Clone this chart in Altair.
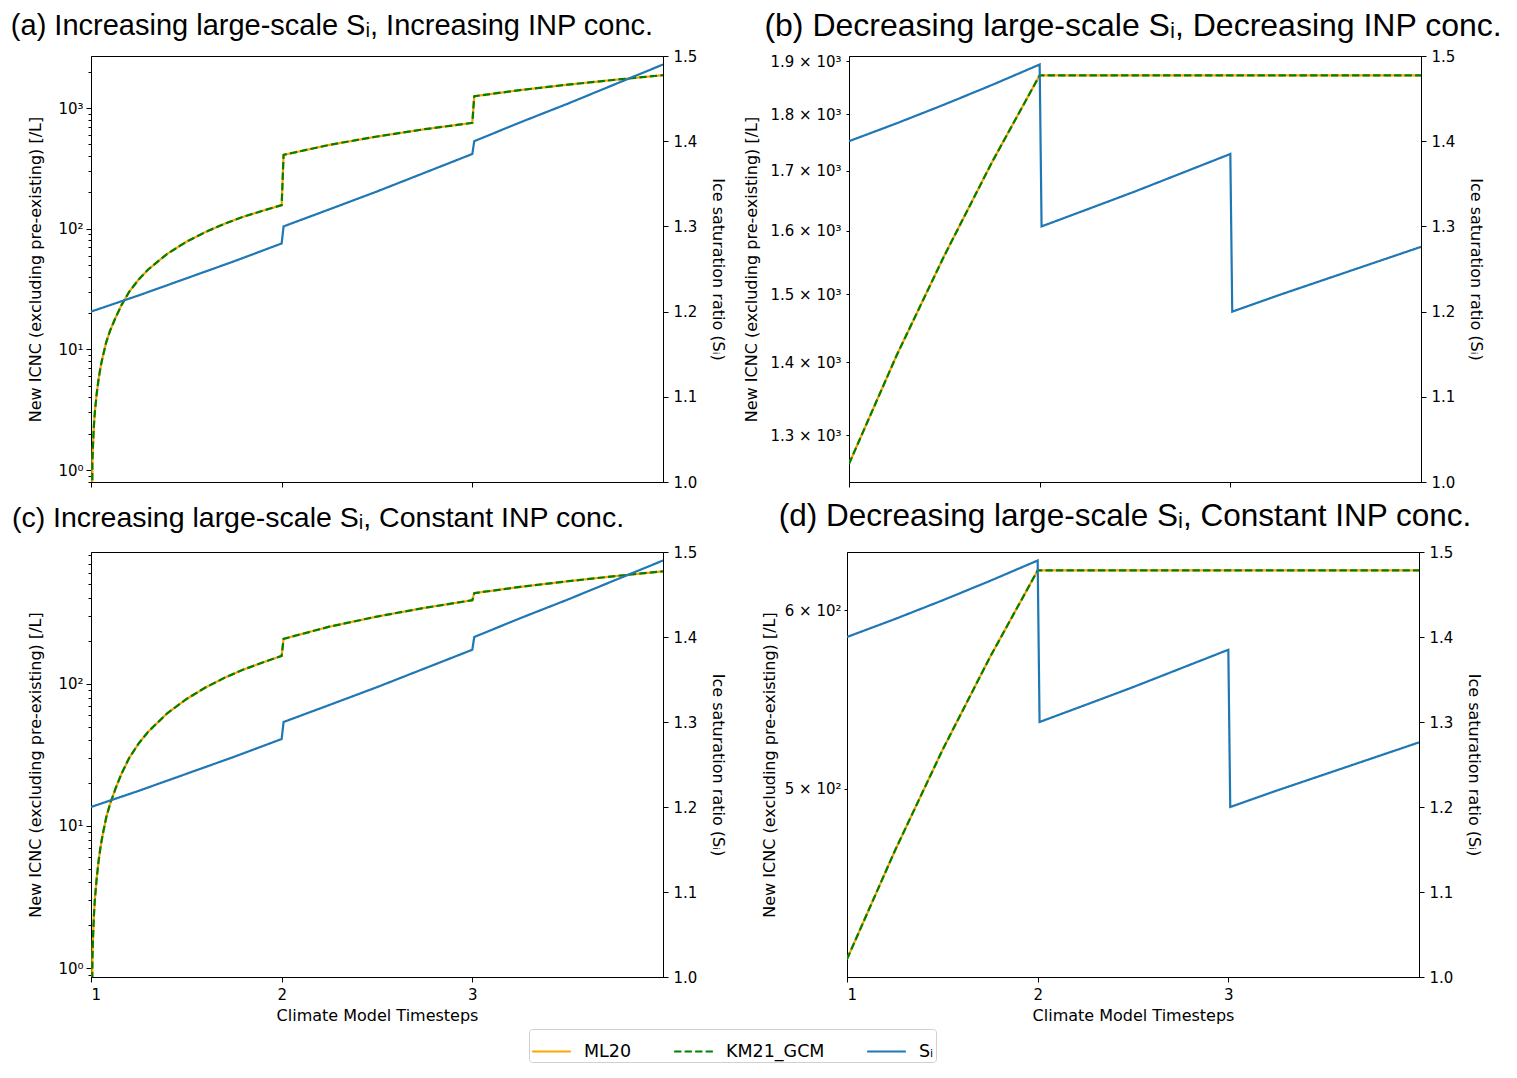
import altair as alt
import pandas as pd

# ---------------- data ----------------
# first timestep of the "increasing S_i" runs (panels a and c share it)
t_seg1_inc = [1.0, 1.0073, 1.01, 1.015, 1.02, 1.03, 1.04, 1.05, 1.06, 1.08, 1.10,
              1.13, 1.16, 1.20, 1.25, 1.30, 1.40, 1.50, 1.60, 1.70, 1.80, 1.90, 2.00]
icnc_seg1_inc = [0.01, 1.15, 1.55, 2.3, 3.0, 4.3, 5.7, 7.1, 8.5, 11.5, 14.3,
                 18.5, 23.3, 30, 38, 46, 62, 78, 94, 110, 126, 141, 157]
t_seg23_inc = [2.01, 2.25, 2.5, 2.75, 3.0, 3.01, 3.25, 3.5, 3.75, 4.0]
icnc_seg23_a = [410, 496, 582, 669, 755, 1256, 1411, 1566, 1720, 1875]
icnc_seg23_c = [207, 252, 297, 342, 387, 434, 480, 526, 572, 618]

t_dec = [1.0, 1.25, 1.5, 1.75, 2.0, 2.01, 3.0, 3.01, 4.0]
icnc_b = [1263, 1410, 1560, 1715, 1873, 1873, 1873, 1873, 1873]
icnc_d = [420, 469, 520, 572, 625, 625, 625, 625, 625]

t_si = [1.0, 1.25, 1.5, 1.75, 2.0, 2.01, 2.25, 2.5, 2.75, 3.0, 3.01, 3.25, 3.5, 3.75, 4.0]
si_inc = [1.200, 1.219, 1.239, 1.259, 1.280, 1.300, 1.320, 1.341, 1.363, 1.385,
          1.400, 1.422, 1.444, 1.467, 1.490]
si_dec = [1.400, 1.421, 1.443, 1.466, 1.490, 1.300, 1.320, 1.341, 1.363, 1.385,
          1.200, 1.219, 1.238, 1.257, 1.276]

series_names = ["ML20", "KM21_GCM", "Sᵢ"]
series_colors = ["#FFA500", "#008000", "#1f77b4"]
series_dashes = [[1, 0], [7.3, 3.2], [1, 0]]

titles = [
    "(a) Increasing large-scale Sᵢ, Increasing INP conc.",
    "(b) Decreasing large-scale Sᵢ, Decreasing INP conc.",
    "(c) Increasing large-scale Sᵢ, Constant INP conc.",
    "(d) Decreasing large-scale Sᵢ, Constant INP conc.",
]
left_title = "New ICNC (excluding pre-existing) [/L]"
right_title = "Ice saturation ratio (Sᵢ)"
x_title = "Climate Model Timesteps"

# ---------------- styling ----------------
W = 572
LW = 2.2
color_scale = alt.Scale(domain=series_names, range=series_colors)
dash_scale = alt.Scale(domain=series_names, range=series_dashes)
legend = alt.Legend(
    title=None, orient="none", direction="horizontal",
    legendX=438, legendY=973,
    symbolType="stroke", symbolSize=1500, symbolStrokeWidth=LW,
    labelFont="DejaVu Sans", labelFontSize=17.5, labelColor="black",
    strokeColor="#d0d0d0", fillColor="white", cornerRadius=3, padding=2,
    columnPadding=37, labelOffset=12,
)

POW10 = "abs(log(datum.value)/LN10 - round(log(datum.value)/LN10)) < 0.001"
SUPS = "['⁰','¹','²','³']"


def pow_axis(values):
    return alt.Axis(
        values=values, title=left_title,
        labelExpr=f"{POW10} ? '10' + {SUPS}[round(log(datum.value)/LN10)] : ''",
        tickSize={"condition": {"test": POW10, "value": 5}, "value": 3},
        labelOverlap=False, titlePadding=14, labelPadding=3,
    )


minor_a = [0.8, 0.9, 1, 2, 3, 4, 5, 6, 7, 8, 9, 10, 20, 30, 40, 50, 60, 70, 80, 90,
           100, 200, 300, 400, 500, 600, 700, 800, 900, 1000, 2000]
minor_c = [0.9, 1, 2, 3, 4, 5, 6, 7, 8, 9, 10, 20, 30, 40, 50, 60, 70, 80, 90,
           100, 200, 300, 400, 500, 600, 700, 800]

axis_a = pow_axis(minor_a)
axis_c = pow_axis(minor_c)
axis_b = alt.Axis(values=[1300, 1400, 1500, 1600, 1700, 1800, 1900], title=left_title,
                  labelExpr="format(datum.value/1000, '.1f') + ' × 10³'",
                  tickSize=3, labelOverlap=False, titlePadding=10, labelPadding=5)
axis_d = alt.Axis(values=[500, 600], title=left_title,
                  labelExpr="format(datum.value/100, '.0f') + ' × 10²'",
                  tickSize=3, labelOverlap=False, titlePadding=7, labelPadding=3)


def panel(t_icnc, icnc, si, ydomain, yaxis, title, title_dx, title_size, title_off, bottom):
    df_icnc = pd.DataFrame({"t": t_icnc, "v": icnc})
    df_si = pd.DataFrame({"t": t_si, "s": si})
    if bottom:
        xaxis = alt.Axis(values=[1, 2, 3], format="d", title=x_title, tickSize=5,
                         labelPadding=5, titlePadding=5)
    else:
        xaxis = alt.Axis(values=[1, 2, 3], labels=False, title=None, tickSize=5)
    xenc = alt.X("t:Q", scale=alt.Scale(domain=[1, 4], nice=False, zero=False), axis=xaxis)
    yenc = alt.Y("v:Q", scale=alt.Scale(type="log", domain=ydomain, nice=False), axis=yaxis)
    col = alt.Color("series:N", scale=color_scale, legend=legend)
    dash = alt.StrokeDash("series:N", scale=dash_scale, legend=legend)

    ml = alt.Chart(df_icnc).transform_calculate(series="'ML20'").mark_line(
        clip=True, strokeWidth=LW).encode(x=xenc, y=yenc, color=col, strokeDash=dash)
    km = alt.Chart(df_icnc).transform_calculate(series="'KM21_GCM'").mark_line(
        clip=True, strokeWidth=LW).encode(x=xenc, y=yenc, color=col, strokeDash=dash)
    si_l = alt.Chart(df_si).transform_calculate(series="'Sᵢ'").mark_line(
        clip=True, strokeWidth=LW).encode(
        x=xenc,
        y=alt.Y("s:Q", scale=alt.Scale(domain=[1.0, 1.5], nice=False, zero=False),
                axis=alt.Axis(orient="right", values=[1.0, 1.1, 1.2, 1.3, 1.4, 1.5],
                              format=".1f", title=right_title, tickSize=5,
                              labelPadding=5, titlePadding=13)),
        color=col, strokeDash=dash)
    return alt.layer(alt.layer(ml, km), si_l).resolve_scale(y="independent").properties(
        width=W, height=426 if not bottom else 425,
        title=alt.TitleParams(title, font="Liberation Sans", fontSize=title_size,
                              fontWeight="normal", color="black", anchor="middle",
                              frame="group", dx=title_dx, offset=title_off),
    )


pa = panel(t_seg1_inc + t_seg23_inc, icnc_seg1_inc + icnc_seg23_a, si_inc,
           [0.796, 2706], axis_a, titles[0], -45, 29, 8, False)
pb = panel(t_dec, icnc_b, si_dec, [1240, 1910], axis_b, titles[1], -2, 32, 6, False)
pc = panel(t_seg1_inc + t_seg23_inc, icnc_seg1_inc + icnc_seg23_c, si_inc,
           [0.865, 845], axis_c, titles[2], -59, 28.5, 13, True)
pd_ = panel(t_dec, icnc_d, si_dec, [412.4, 636.9], axis_d, titles[3], -8, 31.5, 13, True)

chart = alt.vconcat(
    alt.hconcat(pa, pb, spacing=16),
    alt.hconcat(pc, pd_, spacing=33),
    spacing=9,
).resolve_scale(color="shared", strokeDash="shared").configure_view(
    stroke="black", strokeWidth=1
).configure_axis(
    grid=False, domainColor="black", tickColor="black", labelColor="black",
    titleColor="black", labelFont="DejaVu Sans", labelFontSize=15,
    titleFont="DejaVu Sans", titleFontSize=16, titleFontWeight="normal",
).properties(padding={"left": 2, "top": 1, "right": 3, "bottom": 5},
             background="white")

chart.save("out.html", embed_options={"renderer": "svg", "actions": False})
